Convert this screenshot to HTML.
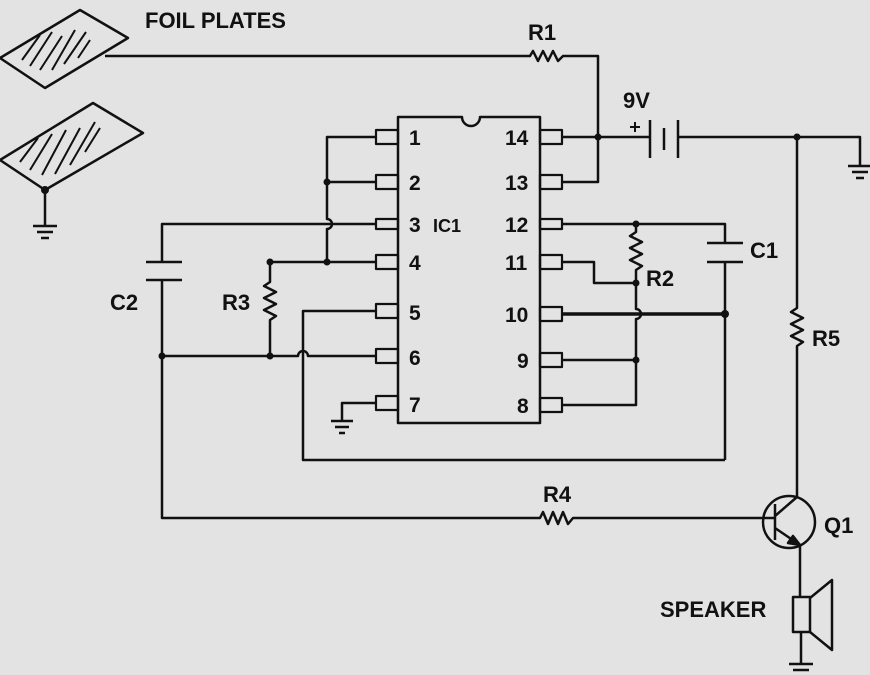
<!DOCTYPE html>
<html><head><style>
html,body{margin:0;padding:0;background:#e3e3e4;}
svg{display:block;}
text{font-family:"Liberation Sans",sans-serif;font-weight:bold;fill:#111;}
</style></head><body>
<svg width="870" height="675" viewBox="0 0 870 675" xmlns="http://www.w3.org/2000/svg">
<rect width="870" height="675" fill="#e3e3e4"/>
<g stroke="#111" stroke-width="2.5" fill="none" stroke-linejoin="round">
<polygon points="0,58 80,10 128,38 45,88"/>
<polygon points="0,160 93,103 143,133 45,190"/>
<g stroke-width="2">
<path d="M22,60 L40,35 M30,66 L52,32 M40,70 L62,36 M52,70 L75,30 M64,64 L86,32 M78,58 L90,40"/>
<path d="M20,162 L38,138 M30,170 L52,134 M42,175 L66,130 M55,174 L80,128 M70,165 L95,122 M85,152 L100,128"/>
</g>
<path d="M105,56 H530 l3,-5 l5,10 l5,-10 l5,10 l5,-10 l5,10 l5,-5 H598 V182 H562"/>
<path d="M45,190 V225 M33,226 H57 M37,232 H53 M41,238 H49"/>
<path d="M398,117 H462 a9,9 0 0 0 18,0 H540 V423 H398 Z"/>
<g stroke-width="2.2">
<rect x="376" y="130" width="22" height="14"/><rect x="376" y="175" width="22" height="14"/>
<rect x="376" y="219" width="22" height="10"/><rect x="376" y="255" width="22" height="14"/>
<rect x="376" y="304" width="22" height="14"/><rect x="376" y="349" width="22" height="14"/>
<rect x="376" y="396" width="22" height="14"/>
<rect x="540" y="130" width="22" height="14"/><rect x="540" y="175" width="22" height="14"/>
<rect x="540" y="219" width="22" height="10"/><rect x="540" y="255" width="22" height="14"/>
<rect x="540" y="307" width="22" height="14"/><rect x="540" y="353" width="22" height="14"/>
<rect x="540" y="398" width="22" height="14"/>
</g>
<path d="M562,137 H650 M650,120 V158 M664,128 V150 M678,120 V158 M678,137 H860 V165 M848,166 H872 M852,172 H868 M856,178 H864"/>
<path d="M630,127 h10 M635,122 v10" stroke-width="2"/>
<path d="M376,137 H327 V219 a5,5 0 0 1 0,10 V262 M376,182 H327 M376,262 H270 V282 l-6,4 l12,6 l-12,6 l12,6 l-12,6 l12,6 l-6,4 V356"/>
<path d="M376,224 H162 V262 M146,262 H182 M146,280 H182 M162,280 V518 H540 l3,-6 l5,12 l5,-12 l5,12 l5,-12 l5,12 l5,-6 H775"/>
<path d="M162,356 H298 a5,5 0 0 1 10,0 H376"/>
<path d="M376,311 H303 V460 H725"/>
<path d="M376,403 H342 V420 M331,421 H353 M335,427 H349 M339,433 H345"/>
<path d="M562,224 H725 V243 M707,243 H743 M707,262 H743 M725,262 V460"/>
<path d="M636,224 V232 l-6,4 l12,6 l-12,6 l12,6 l-12,6 l12,6 l-6,4 V309 a5,5 0 0 1 0,10 V405 H562 M562,262 H594 V283 H636 M562,360 H636"/>
<path d="M562,314 H725" stroke-width="3.5"/>
<path d="M797,137 V308 l-6,4 l12,6 l-12,6 l12,6 l-12,6 l12,6 l-6,4 V497"/>
<circle cx="789" cy="522" r="26"/>
<path d="M775,504 V540 M775,516 L797,497 M775,528 L800,545 M800,545 V597"/>
<polygon points="800,545 788,543 793,536" fill="#111"/>
<rect x="793" y="597" width="17" height="35"/>
<path d="M810,598 L832,580 V650 L810,632 M801,632 V663 M789,664 H813 M793,670 H809"/>
</g>
<g fill="#111">
<circle cx="598" cy="137" r="3.5"/><circle cx="797" cy="137" r="3.5"/>
<circle cx="327" cy="182" r="3.5"/><circle cx="327" cy="262" r="3.5"/>
<circle cx="270" cy="262" r="3.5"/><circle cx="162" cy="356" r="3.5"/>
<circle cx="270" cy="356" r="3.5"/><circle cx="636" cy="224" r="3.5"/>
<circle cx="636" cy="283" r="3.5"/><circle cx="636" cy="360" r="3.5"/>
<circle cx="725" cy="314" r="4"/><circle cx="45" cy="190" r="4"/>
</g>
<g font-size="22">
<text x="145" y="28">FOIL PLATES</text>
<text x="528" y="40">R1</text>
<text x="623" y="108">9V</text>
<text x="750" y="258">C1</text>
<text x="646" y="286">R2</text>
<text x="222" y="310">R3</text>
<text x="110" y="310">C2</text>
<text x="812" y="346">R5</text>
<text x="543" y="502">R4</text>
<text x="824" y="533">Q1</text>
<text x="660" y="617">SPEAKER</text>
</g>
<g font-size="21">
<text x="409" y="145">1</text><text x="409" y="190">2</text><text x="409" y="232">3</text>
<text x="409" y="270">4</text><text x="409" y="320">5</text><text x="409" y="365">6</text>
<text x="409" y="412">7</text>
<text x="505" y="145">14</text><text x="505" y="190">13</text><text x="505" y="232">12</text>
<text x="505" y="270">11</text><text x="505" y="322">10</text><text x="517" y="368">9</text>
<text x="517" y="413">8</text>
<text x="433" y="232" font-size="18">IC1</text>
</g>
</svg>
</body></html>
